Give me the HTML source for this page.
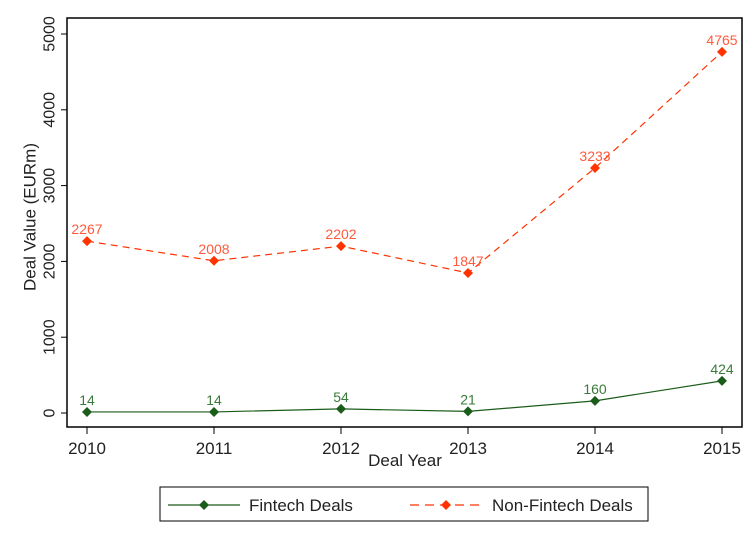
<!DOCTYPE html>
<html><head><meta charset="utf-8"><style>
html,body{margin:0;padding:0;background:#fff;}
svg{display:block;font-family:"Liberation Sans",Arial,sans-serif;}
</style></head><body>
<svg id="chart" width="754" height="549" viewBox="0 0 754 549">
<rect x="0" y="0" width="754" height="549" fill="#fff"/>
<g id="plot"></g>
</svg>
<script>
const years = [2010, 2011, 2012, 2013, 2014, 2015];
const fintech = [14, 14, 54, 21, 160, 424];
const nonFintech = [2267, 2008, 2202, 1847, 3233, 4765];
const yTicks = [0, 1000, 2000, 3000, 4000, 5000];

const NS = "http://www.w3.org/2000/svg";
const g = document.getElementById('plot');
const L = 67, R = 742, T = 18, B = 427;
const x = v => 87 + (v - 2010) * (722 - 87) / 5;
const y = v => 413 - v * (413 - 34) / 5000;
function mk(tag, attrs, parent) {
  const e = document.createElementNS(NS, tag);
  for (const k in attrs) e.setAttribute(k, attrs[k]);
  (parent || g).appendChild(e);
  return e;
}
function txt(s, attrs) { const e = mk('text', attrs); e.textContent = s; return e; }

const frame = mk('rect', {x: L, y: T, width: R - L, height: B - T, fill: 'none', stroke: '#000', 'stroke-width': 1.5});



yTicks.forEach(v => {
  const t = mk('line', {x1: L - 6, x2: L, y1: y(v), y2: y(v), stroke: '#000', 'stroke-width': 1});
  
  
  const lb = txt(String(v), {x: 50, y: y(v), 'font-size': 16, fill: '#222', 'text-anchor': 'middle', 'dominant-baseline': 'central', transform: `rotate(-90 50 ${y(v)})`});
  
  
});
years.forEach(v => {
  const t = mk('line', {x1: x(v), x2: x(v), y1: B, y2: B + 7, stroke: '#000', 'stroke-width': 1});
  
  
  const lb = txt(String(v), {x: x(v), y: 454, 'font-size': 17, fill: '#222', 'text-anchor': 'middle'});
  
  
});
const yt = txt('Deal Value (EURm)', {x: 30, y: 217, 'font-size': 17, fill: '#222', 'text-anchor': 'middle', 'dominant-baseline': 'central', transform: 'rotate(-90 30 217)'});


const xt = txt('Deal Year', {x: 405, y: 466, 'font-size': 17, fill: '#222', 'text-anchor': 'middle'});



function series(vals, color, labelColor, dash, name) {
  const pts = vals.map((v, i) => [x(years[i]), y(v)]);
  const d = pts.map((p, i) => (i ? 'L' : 'M') + p[0] + ' ' + p[1]).join(' ');
  const line = mk('path', {d: d, fill: 'none', stroke: color, 'stroke-width': 1.2, 'stroke-dasharray': dash});
  
  
  pts.forEach((p, i) => {
    const m = mk('path', {d: `M${p[0]} ${p[1] - 5} L${p[0] + 5} ${p[1]} L${p[0]} ${p[1] + 5} L${p[0] - 5} ${p[1]} Z`, fill: color});
    
    
    const lb = txt(String(vals[i]), {x: p[0], y: p[1] - 7, 'font-size': 14, fill: labelColor, 'text-anchor': 'middle'});
    
    
  });
}
series(nonFintech, '#ff3300', '#ff5a3c', '7 5', 'non-fintech');
series(fintech, '#1a5c1a', '#3a7a3a', 'none', 'fintech');

const lg = mk('g', {});


mk('rect', {x: 160, y: 487, width: 488, height: 34, fill: '#fff', stroke: '#000', 'stroke-width': 1}, lg);
mk('line', {x1: 168, x2: 240, y1: 505, y2: 505, stroke: '#1a5c1a', 'stroke-width': 1.2}, lg);
mk('path', {d: 'M204 500 L209 505 L204 510 L199 505 Z', fill: '#1a5c1a'}, lg);
const l1 = mk('text', {x: 249, y: 511, 'font-size': 17, fill: '#222'}, lg);
l1.textContent = 'Fintech Deals';


mk('line', {x1: 410, x2: 482, y1: 505, y2: 505, stroke: '#ff3300', 'stroke-width': 1.2, 'stroke-dasharray': '9 6'}, lg);
mk('path', {d: 'M446 500 L451 505 L446 510 L441 505 Z', fill: '#ff3300'}, lg);
const l2 = mk('text', {x: 492, y: 511, 'font-size': 17, fill: '#222'}, lg);
l2.textContent = 'Non-Fintech Deals';


</script>
</body></html>
